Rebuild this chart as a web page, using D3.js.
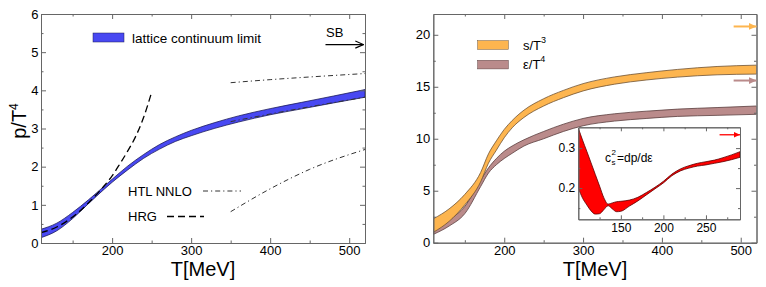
<!DOCTYPE html>
<html><head><meta charset="utf-8">
<script src="https://cdn.jsdelivr.net/npm/d3@7"></script>
<style>body{margin:0;background:#fff}svg{display:block}text{font-family:"Liberation Sans",Arial,sans-serif}</style>
</head><body>
<svg id="c" width="766" height="287"></svg>
<script>
// ---------- data ----------
const T_p    = [110,130,150,170,190,200,220,240,260,280,300,330,360,400,440,480,520];
const p_low  = [0.14,0.32,0.64,1.03,1.41,1.59,1.92,2.22,2.46,2.66,2.81,3.005,3.17,3.36,3.515,3.67,3.82];
const p_high = [0.36,0.52,0.80,1.13,1.49,1.67,2.02,2.32,2.58,2.78,2.95,3.155,3.33,3.52,3.685,3.85,4.02];
const T_hrg  = [110,130,150,170,190,200,210,220,230,240,250];
const hrg    = [0.27,0.42,0.68,1.05,1.50,1.76,2.08,2.42,2.80,3.30,3.95];
const T_htl  = [350,400,450,520];
const htl_hi = [4.20,4.28,4.35,4.44];
const htl_mid= [3.18,3.38,3.57,3.82];
const htl_lo = [0.82,1.42,1.93,2.45];
const SB_p = 5.2, SB_s = 20.8, SB_e = 15.6, SB_c = 1/3;

const T_se   = [110,130,150,170,180,190,200,210,225,250,275,300,340,380,420,470,520];
const s_high = [2.30,3.25,4.65,6.75,8.55,9.80,10.9,11.75,12.75,13.85,14.65,15.30,15.95,16.35,16.67,16.95,17.08];
const s_low  = [1.00,2.05,3.65,5.85,7.65,8.90,10.1,11.05,12.05,13.15,13.95,14.60,15.25,15.65,15.93,16.15,16.22];
const e_high = [1.30,2.20,3.50,6.00,7.20,8.10,8.80,9.30,9.90,10.70,11.40,11.95,12.40,12.65,12.85,13.00,13.15];
const e_low  = [0.80,1.60,2.80,5.40,6.70,7.50,8.10,8.60,9.30,10.00,10.70,11.25,11.70,11.95,12.15,12.25,12.35];

const T_c    = [100,105,110,115,120,125,130,135,140,145,150,160,170,180,190,200,210,220,230,240,250,260,270,280,290];
const c_high = [0.350,0.320,0.292,0.263,0.234,0.205,0.176,0.160,0.163,0.166,0.167,0.170,0.177,0.189,0.202,0.217,0.235,0.248,0.256,0.262,0.266,0.270,0.276,0.283,0.291];
const c_low  = [0.200,0.175,0.158,0.143,0.135,0.136,0.146,0.156,0.148,0.141,0.142,0.155,0.168,0.183,0.198,0.213,0.231,0.243,0.250,0.255,0.258,0.262,0.266,0.271,0.277];

// ---------- setup ----------
const svg = d3.select("#c");
const FRAME = "#666";
const defs = svg.append("defs");
function marker(id, color, open, size){
  const m = defs.append("marker").attr("id",id).attr("viewBox","0 0 10 10").attr("refX",open?9:10).attr("refY",5)
    .attr("markerWidth",size).attr("markerHeight",size).attr("markerUnits","userSpaceOnUse").attr("orient","auto");
  if(open) m.append("path").attr("d","M0,1 L9,5 L0,9").attr("fill","none").attr("stroke",color).attr("stroke-width",1.3);
  else m.append("path").attr("d","M0,0.5 L10,5 L0,9.5 z").attr("fill",color);
}

function axes(g, x, y, o){
  const [xa,xb]=x.range(), [ya,yb]=y.range();
  const fs = o.fs||13;
  const style = s => s.attr("font-size",fs).attr("font-family","Liberation Sans, Arial, sans-serif")
     .call(s=>s.selectAll("line").attr("stroke",FRAME)).call(s=>s.select(".domain").attr("stroke",FRAME));
  g.append("g").attr("transform",`translate(0,${ya})`).call(d3.axisBottom(x).tickValues(o.xMajor).tickSize(-o.ts).tickSizeOuter(0).tickPadding(o.xpad).tickFormat(d3.format("d"))).call(style);
  g.append("g").attr("transform",`translate(0,${ya})`).call(d3.axisBottom(x).tickValues(o.xMinor).tickSize(-o.ts/2).tickSizeOuter(0).tickFormat("")).call(style);
  g.append("g").attr("transform",`translate(0,${yb})`).call(d3.axisTop(x).tickValues(o.xMajor).tickSize(-o.ts).tickSizeOuter(0).tickFormat("")).call(style);
  g.append("g").attr("transform",`translate(0,${yb})`).call(d3.axisTop(x).tickValues(o.xMinor).tickSize(-o.ts/2).tickSizeOuter(0).tickFormat("")).call(style);
  g.append("g").attr("transform",`translate(${xa},0)`).call(d3.axisLeft(y).tickValues(o.yMajor).tickSize(-o.ts).tickSizeOuter(0).tickPadding(o.ypad).tickFormat(o.yFmt)).call(style);
  g.append("g").attr("transform",`translate(${xa},0)`).call(d3.axisLeft(y).tickValues(o.yMinor).tickSize(-o.ts/2).tickSizeOuter(0).tickFormat("")).call(style);
  g.append("g").attr("transform",`translate(${xb},0)`).call(d3.axisRight(y).tickValues(o.yMajor).tickSize(-o.ts).tickSizeOuter(0).tickFormat("")).call(style);
  g.append("g").attr("transform",`translate(${xb},0)`).call(d3.axisRight(y).tickValues(o.yMinor).tickSize(-o.ts/2).tickSizeOuter(0).tickFormat("")).call(style);
  g.selectAll("text").attr("fill","#000");
}
function band(g, x, y, T, lo, hi, fill, stroke){
  const d = T.map((t,i)=>({t,lo:lo[i],hi:hi[i]}));
  g.append("path").datum(d).attr("d", d3.area().x(e=>x(e.t)).y0(e=>y(e.lo)).y1(e=>y(e.hi)).curve(d3.curveMonotoneX))
    .attr("fill",fill).attr("stroke",stroke).attr("stroke-width",0.8);
}
function line(g, x, y, T, v, dash, color, w){
  g.append("path").datum(T.map((t,i)=>[t,v[i]])).attr("d", d3.line().x(e=>x(e[0])).y(e=>y(e[1])).curve(d3.curveMonotoneX))
    .attr("fill","none").attr("stroke",color).attr("stroke-width",w).attr("stroke-dasharray",dash);
}

// ---------- left panel ----------
const xL = d3.scaleLinear().domain([110,520]).range([41,365]);
const yL = d3.scaleLinear().domain([0,6]).range([243,14]);
const gL = svg.append("g");
const clipL = defs.append("clipPath").attr("id","clipL");
clipL.append("rect").attr("x",41).attr("y",14).attr("width",324).attr("height",229);
const pL = gL.append("g").attr("clip-path","url(#clipL)");
band(pL, xL, yL, T_p, p_low, p_high, "#4848f2", "#1c1c5a");
line(pL, xL, yL, T_hrg, hrg, "7,4", "#000", 1.3);
[htl_hi, htl_mid, htl_lo].forEach(v => line(pL, xL, yL, T_htl, v, "5,3,1.2,3", "#333", 1));
axes(gL, xL, yL, {xMajor:[200,300,400,500], xMinor:[150,250,350,450], yMajor:d3.range(0,7), yMinor:d3.range(0.5,6,1), ts:5, xpad:3, ypad:2.5, yFmt:d3.format("d")});

// legend
gL.append("rect").attr("x",93).attr("y",33).attr("width",31).attr("height",9).attr("fill","#4848f2").attr("stroke","#1c1c5a").attr("stroke-width",0.5);
gL.append("text").attr("x",132).attr("y",42.5).attr("font-size",13.5).text("lattice continuum limit");
gL.append("text").attr("x",128).attr("y",195.5).attr("font-size",13).text("HTL NNLO");
gL.append("line").attr("x1",203).attr("x2",241).attr("y1",191).attr("y2",191).attr("stroke","#333").attr("stroke-dasharray","5,3,1.2,3");
gL.append("text").attr("x",128).attr("y",221).attr("font-size",13).text("HRG");
gL.append("line").attr("x1",167).attr("x2",204).attr("y1",216.5).attr("y2",216.5).attr("stroke","#000").attr("stroke-width",1.3).attr("stroke-dasharray","7,4");
// SB
marker("arrL","#000",true,9);
gL.append("text").attr("x",326).attr("y",36.5).attr("font-size",13).text("SB");
gL.append("line").attr("x1",xL(470)).attr("x2",xL(518)).attr("y1",yL(SB_p)).attr("y2",yL(SB_p)).attr("stroke","#000").attr("stroke-width",1.2).attr("marker-end","url(#arrL)");
// labels
const yl = gL.append("text").attr("transform","translate(26,121) rotate(-90)").attr("text-anchor","middle").attr("font-size",20);
yl.append("tspan").text("p/T");
yl.append("tspan").attr("font-size",12).attr("dy",-8).text("4");
gL.append("text").attr("x",203).attr("y",276).attr("text-anchor","middle").attr("font-size",20).text("T[MeV]");

// ---------- right panel ----------
const xR = d3.scaleLinear().domain([110,520]).range([433.3,756.5]);
const yR = d3.scaleLinear().domain([0,22]).range([242.7,14]);
const gR = svg.append("g");
const clipR = defs.append("clipPath").attr("id","clipR");
clipR.append("rect").attr("x",433.3).attr("y",14).attr("width",323.2).attr("height",228.7);
const pR = gR.append("g").attr("clip-path","url(#clipR)");
band(pR, xR, yR, T_se, e_low, e_high, "#ba8b8b", "#5a3e3e");
band(pR, xR, yR, T_se, s_low, s_high, "#fdb54f", "#6e5232");
axes(gR, xR, yR, {xMajor:[200,300,400,500], xMinor:[150,250,350,450], yMajor:d3.range(0,21,5), yMinor:[2.5,7.5,12.5,17.5], ts:5, xpad:3, ypad:3, yFmt:d3.format("d")});
marker("arrO","#fdb54f",false,8); marker("arrB","#ba8b8b",false,8);
gR.append("line").attr("x1",xR(491)).attr("x2",xR(520)).attr("y1",yR(SB_s)).attr("y2",yR(SB_s)).attr("stroke","#fdb54f").attr("stroke-width",2).attr("marker-end","url(#arrO)");
gR.append("line").attr("x1",xR(491)).attr("x2",xR(520)).attr("y1",yR(SB_e)).attr("y2",yR(SB_e)).attr("stroke","#ba8b8b").attr("stroke-width",2).attr("marker-end","url(#arrB)");
// legend
gR.append("rect").attr("x",477.7).attr("y",40.7).attr("width",30.6).attr("height",8.6).attr("fill","#fdb54f").attr("stroke","#6e5232").attr("stroke-width",0.5);
gR.append("rect").attr("x",477.7).attr("y",60.3).attr("width",30.6).attr("height",8.6).attr("fill","#ba8b8b").attr("stroke","#5a3e3e").attr("stroke-width",0.5);
const t1 = gR.append("text").attr("x",523).attr("y",49.5).attr("font-size",13);
t1.append("tspan").text("s/T"); t1.append("tspan").attr("font-size",9).attr("dy",-7).text("3");
const t2 = gR.append("text").attr("x",523).attr("y",69).attr("font-size",13);
t2.append("tspan").text("ε/T"); t2.append("tspan").attr("font-size",9).attr("dy",-7).text("4");
gR.append("text").attr("x",595).attr("y",276).attr("text-anchor","middle").attr("font-size",20).text("T[MeV]");

// ---------- inset ----------
const xI = d3.scaleLinear().domain([100,290]).range([578.3,740]);
const yI = d3.scaleLinear().domain([0.122,0.352]).range([219.3,127.3]);
const gI = svg.append("g");
gI.append("rect").attr("x",578.3).attr("y",127.3).attr("width",161.7).attr("height",92).attr("fill","#fff");
const clipI = defs.append("clipPath").attr("id","clipI");
clipI.append("rect").attr("x",578.3).attr("y",127.3).attr("width",161.7).attr("height",92);
const pI = gI.append("g").attr("clip-path","url(#clipI)");
band(pI, xI, yI, T_c, c_low, c_high, "#ff0000", "#5a0000");
axes(gI, xI, yI, {xMajor:[150,200,250], xMinor:[125,175,225,275], yMajor:[0.2,0.3], yMinor:[0.15,0.25], ts:4, xpad:4, ypad:3, yFmt:d3.format(".1f"), fs:12});
marker("arrR","#ff0000",false,6);
gI.append("line").attr("x1",xI(266)).attr("x2",xI(290)).attr("y1",yI(SB_c)).attr("y2",yI(SB_c)).attr("stroke","#ff0000").attr("stroke-width",1.3).attr("marker-end","url(#arrR)");
gI.append("text").attr("x",605).attr("y",161.5).attr("font-size",12).text("c");
gI.append("text").attr("x",611.5).attr("y",155).attr("font-size",8).text("2");
gI.append("text").attr("x",611.5).attr("y",165).attr("font-size",8).text("s");
gI.append("text").attr("x",617).attr("y",161.5).attr("font-size",12).text("=dp/dε");
</script>
</body></html>
